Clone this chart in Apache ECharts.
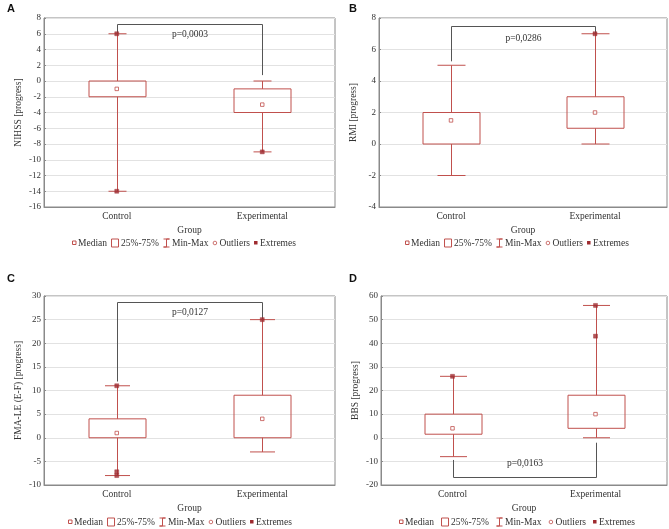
<!DOCTYPE html>
<html>
<head>
<meta charset="utf-8">
<script src="https://cdn.jsdelivr.net/npm/echarts@6/dist/echarts.min.js"></script>
<style>html,body{margin:0;padding:0;background:#fff}#c{width:669px;height:529px}</style>
</head>
<body>
<div id="c"></div>
<script>
// ---------------- DATA ----------------
const categories = ['Control', 'Experimental'];
const statNames = ['Min', 'Q1', 'Median', 'Q3', 'Max'];

// Panel A: NIHSS  rows = [min, q1, median, q3, max]
const nihssStats = [[-14, -2, -1, 0, 6], [-9, -4, -3, -1, 0]];
const nihssExtremes = [[0, 6], [0, -14], [1, -9]];
const nihssOutliers = [];
const nihssBracket = [6, 7.25, 0.75]; // left leg end, bar level, right leg end
const nihssP = 'p=0,0003';
const nihssTicks = [-16, 8, 2];

// Panel B: RMI
const rmiStats = [[-2, 0, 1.5, 2, 5], [0, 1, 2, 3, 7]];
const rmiExtremes = [[1, 7]];
const rmiOutliers = [];
const rmiBracket = [5.25, 7.5, 7];
const rmiP = 'p=0,0286';
const rmiTicks = [-4, 8, 2];

// Panel C: FMA-LE (E-F)
const fmaStats = [[-8, 0, 1, 4, 11], [-3, 0, 4, 9, 25]];
const fmaExtremes = [[0, 11], [0, -7.2], [0, -8], [1, 25]];
const fmaOutliers = [];
const fmaBracket = [11.9, 28.8, 25];
const fmaP = 'p=0,0127';
const fmaTicks = [-10, 30, 5];

// Panel D: BBS
const bbsStats = [[-8, 1.5, 4, 10, 26], [0, 4, 10, 18, 56]];
const bbsExtremes = [[0, 26], [1, 56], [1, 43]];
const bbsOutliers = [];
const bbsBracket = [-9.4, -16.8, -2.1];
const bbsP = 'p=0,0163';
const bbsTicks = [-20, 60, 10];

const legendLabels = ['Median', '25%-75%', 'Min-Max', 'Outliers', 'Extremes'];

// ---------------- STYLE ----------------
const RED = '#c0504d';
const DARKRED = '#9e2a2f';
const GRAY = '#555';
const TXT = '#333';
const SERIF = '"Liberation Serif","DejaVu Serif",serif';
const BOX_W = 57;

const panels = [
  {letter: 'A', yName: 'NIHSS [progress]', stats: nihssStats, ext: nihssExtremes, out: nihssOutliers, br: nihssBracket, p: nihssP, ticks: nihssTicks,
   grid: {left: 44, top: 18, width: 291, height: 189}, cap: 18, pOff: 10, letterPos: [7, 3], legendPos: [72, 243], legendGap: 4},
  {letter: 'B', yName: 'RMI [progress]', stats: rmiStats, ext: rmiExtremes, out: rmiOutliers, br: rmiBracket, p: rmiP, ticks: rmiTicks,
   grid: {left: 379, top: 18, width: 288, height: 189}, cap: 28, pOff: 12, letterPos: [349, 3], legendPos: [405, 243], legendGap: 4},
  {letter: 'C', yName: 'FMA-LE (E-F) [progress]', stats: fmaStats, ext: fmaExtremes, out: fmaOutliers, br: fmaBracket, p: fmaP, ticks: fmaTicks,
   grid: {left: 44, top: 296, width: 291, height: 189}, cap: 25, pOff: 10, letterPos: [7, 273], legendPos: [68, 522], legendGap: 4},
  {letter: 'D', yName: 'BBS [progress]', stats: bbsStats, ext: bbsExtremes, out: bbsOutliers, br: bbsBracket, p: bbsP, ticks: bbsTicks,
   grid: {left: 381, top: 296, width: 286, height: 189}, cap: 27, pOff: -14, letterPos: [349, 273], legendPos: [399, 522], legendGap: 7}
];

// ---------------- BUILD ----------------
const grids = [], xAxes = [], yAxes = [], series = [], graphics = [];

const ctx = document.createElement('canvas').getContext('2d');
ctx.font = '9.5px "Liberation Serif"';
function tw(t) { return ctx.measureText(t).width; }

function legend(x0, cy, gap) {
  let x = x0;
  const icons = [
    (x) => ({w: 4, el: {type: 'rect', shape: {x: x + 0.5, y: cy - 2, width: 3.5, height: 3.5}, style: {fill: 'none', stroke: RED, lineWidth: 1}}}),
    (x) => ({w: 8, el: {type: 'rect', shape: {x: x + 0.5, y: cy - 4, width: 7, height: 8}, style: {fill: 'none', stroke: RED, lineWidth: 1}}}),
    (x) => ({w: 7, el: {type: 'polyline', shape: {points: [[x + 0.5, cy - 4], [x + 6.5, cy - 4], [x + 3.5, cy - 4], [x + 3.5, cy + 4], [x + 0.5, cy + 4], [x + 6.5, cy + 4]]}, style: {fill: 'none', stroke: RED, lineWidth: 1}}}),
    (x) => ({w: 5, el: {type: 'circle', shape: {cx: x + 2.5, cy: cy, r: 1.8}, style: {fill: 'none', stroke: RED, lineWidth: 0.8}}}),
    (x) => ({w: 4, el: {type: 'rect', shape: {x: x, y: cy - 2, width: 3.5, height: 3.5}, style: {fill: DARKRED}}})
  ];
  legendLabels.forEach((lab, i) => {
    const ic = icons[i](x);
    graphics.push(ic.el);
    x += ic.w + 2;
    graphics.push({type: 'text', x: x, y: cy, style: {text: lab, font: '9.5px ' + SERIF, fill: TXT, verticalAlign: 'middle'}});
    x += tw(lab) + gap;
  });
}

panels.forEach((pn, i) => {
  grids.push(Object.assign({show: true, borderColor: '#8a8a8a', borderWidth: 1, backgroundColor: '#fff'}, pn.grid));
  xAxes.push({
    type: 'category', gridIndex: i, data: categories, boundaryGap: true,
    name: 'Group', nameLocation: 'middle', nameGap: 18,
    nameTextStyle: {fontFamily: SERIF, fontSize: 9.5, color: TXT},
    axisLine: {onZero: false, lineStyle: {color: '#8a8a8a'}},
    axisTick: {alignWithLabel: true, inside: true, length: 3, lineStyle: {color: '#8a8a8a'}},
    axisLabel: {fontFamily: SERIF, fontSize: 9.5, color: TXT, margin: 4},
    splitLine: {show: false}
  });
  yAxes.push({
    type: 'value', gridIndex: i, min: pn.ticks[0], max: pn.ticks[1], interval: pn.ticks[2],
    name: pn.yName, nameLocation: 'middle', nameGap: 21,
    nameTextStyle: {fontFamily: SERIF, fontSize: 9.5, color: TXT},
    axisLine: {show: true, onZero: false, lineStyle: {color: '#8a8a8a'}},
    axisTick: {show: true, inside: true, length: 2, lineStyle: {color: '#8a8a8a'}},
    axisLabel: {fontFamily: SERIF, fontSize: 9, color: TXT, margin: 3},
    splitLine: {show: true, lineStyle: {color: '#e2e2e2', width: 1}}
  });

  // boxes + whiskers
  const cap = pn.cap;
  series.push({
    type: 'custom', name: '25%-75%', xAxisIndex: i, yAxisIndex: i,
    data: pn.stats.map((s, k) => [k].concat(s)),
    encode: {x: 0, y: [1, 2, 3, 4, 5]},
    renderItem: function (params, api) {
      const k = api.value(0);
      const pMin = api.coord([k, api.value(1)]);
      const pQ1 = api.coord([k, api.value(2)]);
      const pQ3 = api.coord([k, api.value(4)]);
      const pMax = api.coord([k, api.value(5)]);
      const cx = Math.round(pMin[0]) + 0.5;
      const st = {stroke: RED, lineWidth: 1, fill: 'none'};
      return {type: 'group', children: [
        {type: 'line', shape: {x1: cx, y1: pMax[1], x2: cx, y2: pQ3[1]}, style: st},
        {type: 'line', shape: {x1: cx, y1: pQ1[1], x2: cx, y2: pMin[1]}, style: st},
        {type: 'line', shape: {x1: cx - cap / 2, y1: pMax[1], x2: cx + cap / 2, y2: pMax[1]}, style: st},
        {type: 'line', shape: {x1: cx - cap / 2, y1: pMin[1], x2: cx + cap / 2, y2: pMin[1]}, style: st},
        {type: 'rect', shape: {x: cx - BOX_W / 2, y: pQ3[1], width: BOX_W, height: pQ1[1] - pQ3[1]}, style: st}
      ]};
    },
    z: 3
  });
  // medians
  series.push({
    type: 'scatter', name: 'Median', xAxisIndex: i, yAxisIndex: i,
    data: pn.stats.map((s, k) => [k, s[2]]),
    symbol: 'rect', symbolSize: 3.5,
    itemStyle: {color: '#fff', borderColor: RED, borderWidth: 1}, z: 4
  });
  // extremes
  series.push({
    type: 'scatter', name: 'Extremes', xAxisIndex: i, yAxisIndex: i,
    data: pn.ext, symbol: 'rect', symbolSize: 4,
    itemStyle: {color: DARKRED, borderColor: DARKRED, borderWidth: 0.5}, z: 5
  });
  // outliers
  series.push({
    type: 'scatter', name: 'Outliers', xAxisIndex: i, yAxisIndex: i,
    data: pn.out, symbol: 'circle', symbolSize: 4,
    itemStyle: {color: '#fff', borderColor: RED, borderWidth: 1}, z: 5
  });
  // bracket + p value
  const pOff = pn.pOff, pText = pn.p;
  series.push({
    type: 'custom', name: 'bracket', xAxisIndex: i, yAxisIndex: i,
    data: [pn.br],
    encode: {y: [0, 1, 2]},
    renderItem: function (params, api) {
      const a = api.coord([0, api.value(0)]);
      const b = api.coord([0, api.value(1)]);
      const d = api.coord([1, api.value(2)]);
      const xl = Math.round(a[0]) + 0.5, xr = Math.round(d[0]) + 0.5, yb = Math.round(b[1]) + 0.5;
      return {type: 'group', children: [
        {type: 'polyline', shape: {points: [[xl, a[1]], [xl, yb], [xr, yb], [xr, d[1]]]}, style: {stroke: GRAY, lineWidth: 1, fill: 'none'}},
        {type: 'text', x: (xl + xr) / 2, y: yb + pOff, style: {text: pText, font: '9.5px ' + SERIF, fill: TXT, align: 'center', verticalAlign: 'middle'}}
      ]};
    },
    z: 2
  });

  graphics.push({type: 'text', left: pn.letterPos[0], top: pn.letterPos[1], style: {text: pn.letter, font: 'bold 11px "Liberation Sans", Arial, sans-serif', fill: '#111'}});
  legend(pn.legendPos[0], pn.legendPos[1], pn.legendGap);
});

const chart = echarts.init(document.getElementById('c'), null, {renderer: 'canvas'});
chart.setOption({
  animation: false,
  backgroundColor: '#fff',
  grid: grids, xAxis: xAxes, yAxis: yAxes, series: series,
  graphic: graphics
});
</script>
</body>
</html>
